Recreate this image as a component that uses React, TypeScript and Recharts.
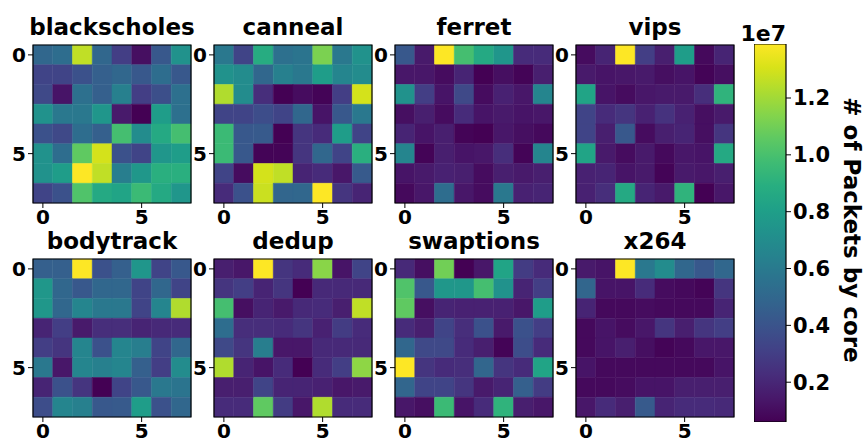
import React from 'react';
import { ScatterChart, Scatter, XAxis, YAxis, ReferenceArea } from 'recharts';

// packets handled per core, in units of 1e7 (rows = source core 0..7, cols = dest core 0..7)
const blackscholes = [
  [0.50, 0.53, 1.26, 0.50, 0.30, 0.11, 0.42, 0.73],
  [0.33, 0.33, 0.39, 0.46, 0.50, 0.42, 0.53, 0.42],
  [0.35, 0.13, 0.55, 0.46, 0.63, 0.30, 0.38, 0.55],
  [0.73, 0.59, 0.59, 0.75, 0.15, 0.06, 0.79, 0.55],
  [0.39, 0.35, 0.53, 0.46, 0.99, 0.70, 0.86, 0.99],
  [0.73, 0.53, 1.06, 1.30, 0.39, 0.33, 0.75, 0.79],
  [0.73, 0.79, 1.39, 1.26, 0.62, 0.76, 0.90, 0.90],
  [0.33, 0.39, 1.02, 0.86, 0.83, 0.96, 0.86, 0.75],
];
const canneal = [
  [0.59, 0.33, 0.88, 0.55, 0.57, 1.12, 0.59, 0.73],
  [0.73, 0.70, 0.50, 0.63, 0.59, 0.79, 0.66, 0.70],
  [1.23, 0.70, 0.23, 0.06, 0.10, 0.07, 0.30, 1.30],
  [0.33, 0.33, 0.37, 0.33, 0.50, 0.13, 0.42, 0.59],
  [0.96, 0.42, 0.43, 0.06, 0.26, 0.22, 0.79, 0.33],
  [0.96, 0.42, 0.07, 0.07, 0.26, 0.50, 0.33, 0.90],
  [0.33, 0.10, 1.30, 1.26, 0.19, 0.22, 0.14, 0.43],
  [0.22, 0.39, 1.28, 0.49, 0.50, 1.39, 0.26, 0.19],
];
const ferret = [
  [0.42, 0.15, 1.39, 0.99, 0.86, 0.75, 0.22, 0.22],
  [0.14, 0.14, 0.10, 0.19, 0.06, 0.11, 0.07, 0.17],
  [0.73, 0.30, 0.13, 0.35, 0.10, 0.18, 0.14, 0.66],
  [0.11, 0.17, 0.10, 0.22, 0.13, 0.15, 0.13, 0.14],
  [0.19, 0.13, 0.17, 0.07, 0.06, 0.14, 0.11, 0.09],
  [0.66, 0.07, 0.17, 0.13, 0.14, 0.23, 0.07, 0.66],
  [0.13, 0.15, 0.18, 0.17, 0.10, 0.17, 0.15, 0.17],
  [0.09, 0.14, 0.53, 0.14, 0.10, 0.59, 0.18, 0.19],
];
const vips = [
  [0.10, 0.19, 1.39, 0.30, 0.17, 0.79, 0.09, 0.19],
  [0.15, 0.13, 0.14, 0.15, 0.11, 0.13, 0.07, 0.11],
  [0.83, 0.13, 0.10, 0.14, 0.15, 0.15, 0.23, 0.92],
  [0.33, 0.22, 0.26, 0.18, 0.25, 0.18, 0.11, 0.15],
  [0.33, 0.17, 0.42, 0.10, 0.17, 0.19, 0.11, 0.26],
  [0.83, 0.15, 0.10, 0.15, 0.09, 0.14, 0.13, 0.86],
  [0.18, 0.19, 0.13, 0.15, 0.07, 0.15, 0.14, 0.17],
  [0.18, 0.23, 0.86, 0.19, 0.15, 0.92, 0.06, 0.14],
];
const bodytrack = [
  [0.46, 0.46, 1.39, 0.39, 0.46, 0.75, 0.33, 0.42],
  [0.76, 0.50, 0.42, 0.50, 0.50, 0.33, 0.50, 0.33],
  [0.76, 0.50, 0.66, 0.59, 0.59, 0.33, 0.66, 1.23],
  [0.19, 0.30, 0.15, 0.23, 0.23, 0.19, 0.21, 0.22],
  [0.30, 0.26, 0.66, 0.39, 0.66, 0.62, 0.33, 0.50],
  [0.59, 0.14, 0.66, 0.63, 0.66, 0.46, 0.30, 0.70],
  [0.19, 0.39, 0.26, 0.06, 0.33, 0.42, 0.59, 0.57],
  [0.37, 0.66, 0.63, 0.42, 0.43, 0.79, 0.39, 0.50],
];
const dedup = [
  [0.17, 0.14, 1.39, 0.26, 0.22, 1.15, 0.13, 0.33],
  [0.26, 0.30, 0.19, 0.26, 0.06, 0.21, 0.21, 0.21],
  [0.99, 0.11, 0.19, 0.15, 0.21, 0.22, 0.17, 1.26],
  [0.53, 0.23, 0.23, 0.22, 0.26, 0.18, 0.29, 0.22],
  [0.35, 0.26, 0.62, 0.14, 0.14, 0.21, 0.21, 0.21],
  [1.23, 0.19, 0.13, 0.22, 0.06, 0.22, 0.30, 1.16],
  [0.17, 0.17, 0.33, 0.19, 0.19, 0.18, 0.14, 0.15],
  [0.22, 0.22, 1.06, 0.29, 0.14, 1.23, 0.22, 0.22],
];
const swaptions = [
  [0.21, 0.11, 1.10, 0.06, 0.14, 0.83, 0.29, 0.22],
  [1.02, 0.42, 0.76, 0.76, 0.99, 0.73, 0.19, 0.30],
  [1.06, 0.11, 0.19, 0.18, 0.18, 0.18, 0.14, 0.79],
  [0.22, 0.17, 0.33, 0.23, 0.39, 0.15, 0.39, 0.30],
  [0.50, 0.35, 0.35, 0.22, 0.17, 0.07, 0.37, 0.22],
  [1.39, 0.26, 0.22, 0.23, 0.49, 0.26, 0.22, 0.83],
  [0.49, 0.33, 0.33, 0.26, 0.15, 0.19, 0.46, 0.29],
  [0.14, 0.11, 0.96, 0.13, 0.22, 0.92, 0.17, 0.14],
];
const x264 = [
  [0.15, 0.13, 1.39, 0.59, 0.70, 0.50, 0.42, 0.50],
  [0.49, 0.13, 0.13, 0.22, 0.10, 0.09, 0.07, 0.26],
  [0.19, 0.09, 0.09, 0.10, 0.09, 0.09, 0.09, 0.19],
  [0.09, 0.13, 0.10, 0.14, 0.26, 0.17, 0.26, 0.30],
  [0.09, 0.13, 0.17, 0.11, 0.07, 0.09, 0.14, 0.14],
  [0.13, 0.09, 0.09, 0.09, 0.09, 0.09, 0.09, 0.13],
  [0.09, 0.09, 0.10, 0.13, 0.13, 0.17, 0.17, 0.17],
  [0.14, 0.22, 0.17, 0.43, 0.19, 0.22, 0.22, 0.21],
];

const names = ['blackscholes', 'canneal', 'ferret', 'vips', 'bodytrack', 'dedup', 'swaptions', 'x264'];
const grids = [blackscholes, canneal, ferret, vips, bodytrack, dedup, swaptions, x264];
const axisTicks = [0, 5];
const cbarTicks = [0.2, 0.4, 0.6, 0.8, 1.0, 1.2];
const vmin = 0.06;
const vmax = 1.39;

const viridis = [
  '#440154', '#48186a', '#472d7b', '#424086', '#3b528b', '#33638d', '#2c728e', '#26828e',
  '#21918c', '#1fa088', '#28ae80', '#3fbc73', '#5ec962', '#84d44b', '#addc30', '#d8e219', '#fde725',
];

const hexToRgb = (h: string) => [1, 3, 5].map((i) => parseInt(h.slice(i, i + 2), 16));

function colorFor(v: number) {
  const t = Math.min(1, Math.max(0, (v - vmin) / (vmax - vmin)));
  const pos = t * (viridis.length - 1);
  const i = Math.min(viridis.length - 2, Math.floor(pos));
  const f = pos - i;
  const a = hexToRgb(viridis[i]);
  const b = hexToRgb(viridis[i + 1]);
  const rgb = a.map((x, k) => Math.round(x + (b[k] - x) * f));
  return `rgb(${rgb.join(',')})`;
}

const FONT = 'DejaVu Sans';
const tickStyle = { fontSize: 20, fontWeight: 700, fill: '#000', fontFamily: FONT };

const PW = 158;
const lefts = [33, 214, 395, 576];
const tops = [45, 259];

function Panel({ grid, left, top }: { grid: number[][]; left: number; top: number }) {
  const cells = grid.flatMap((row, r) => row.map((v, c) => ({ r, c, v })));
  return (
    <div style={{ position: 'absolute', left: left - 30, top: top - 5 }}>
      <ScatterChart width={30 + PW + 6} height={5 + PW + 30} margin={{ top: 5, right: 6, left: 0, bottom: 0 }}>
        <XAxis
          type="number"
          dataKey="c"
          domain={[-0.5, 7.5]}
          ticks={axisTicks}
          interval={0}
          allowDataOverflow
          height={30}
          tick={tickStyle}
          tickSize={5}
          tickLine={{ stroke: '#000' }}
          axisLine={false}
        />
        <YAxis
          type="number"
          dataKey="r"
          domain={[-0.5, 7.5]}
          reversed
          ticks={axisTicks}
          interval={0}
          allowDataOverflow
          width={30}
          tick={tickStyle}
          tickSize={5}
          tickLine={{ stroke: '#000' }}
          axisLine={false}
        />
        {cells.map((d) => {
          const col = colorFor(d.v);
          return (
            <ReferenceArea
              key={`${d.r}-${d.c}`}
              x1={d.c - 0.5}
              x2={d.c + 0.5}
              y1={d.r - 0.5}
              y2={d.r + 0.5}
              fill={col}
              fillOpacity={1}
              stroke={col}
              strokeWidth={0.5}
              ifOverflow="visible"
            />
          );
        })}
        <ReferenceArea x1={-0.5} x2={7.5} y1={-0.5} y2={7.5} fill="none" stroke="#000" strokeWidth={1.2} ifOverflow="visible" />
        <Scatter data={cells} isAnimationActive={false} shape={() => <g />} />
      </ScatterChart>
    </div>
  );
}

function ColorBar() {
  const pts = cbarTicks.map((y) => ({ x: 0.5, y }));
  return (
    <div style={{ position: 'absolute', left: 754, top: 44 }}>
      <ScatterChart width={32 + 60} height={378} margin={{ top: 0, right: 0, left: 0, bottom: 0 }}>
        <defs>
          <linearGradient id="viridisGrad" x1="0" y1="1" x2="0" y2="0">
            {viridis.map((c, i) => (
              <stop key={c} offset={i / (viridis.length - 1)} stopColor={c} />
            ))}
          </linearGradient>
        </defs>
        <XAxis type="number" dataKey="x" domain={[0, 1]} allowDataOverflow hide height={0} />
        <YAxis
          type="number"
          dataKey="y"
          orientation="right"
          domain={[vmin, vmax]}
          ticks={cbarTicks}
          interval={0}
          allowDataOverflow
          width={60}
          tick={{ ...tickStyle, fontSize: 21 }}
          tickSize={5}
          tickLine={{ stroke: '#000' }}
          axisLine={false}
          tickFormatter={(v: number) => v.toFixed(1)}
        />
        <ReferenceArea x1={0} x2={1} y1={vmin} y2={vmax} fill="url(#viridisGrad)" fillOpacity={1} stroke="#000" strokeWidth={1.2} ifOverflow="visible" />
        <Scatter data={pts} isAnimationActive={false} shape={() => <g />} />
      </ScatterChart>
    </div>
  );
}

export default function App() {
  return (
    <div style={{ position: 'absolute', left: 0, top: 0, width: 863, height: 439, background: '#fff', overflow: 'hidden' }}>
      {grids.map((g, i) => (
        <Panel key={names[i]} grid={g} left={lefts[i % 4]} top={tops[Math.floor(i / 4)]} />
      ))}
      <ColorBar />
      <svg width={863} height={439} style={{ position: 'absolute', left: 0, top: 0, pointerEvents: 'none' }}>
        {names.map((n, i) => (
          <text
            key={n}
            x={lefts[i % 4] + PW / 2}
            y={i < 4 ? 35 : 248.5}
            textAnchor="middle"
            fontFamily={FONT}
            fontWeight={700}
            fontSize={23}
          >
            {n}
          </text>
        ))}
        <text x={786} y={41} textAnchor="end" fontFamily={FONT} fontWeight={700} fontSize={22}>
          1e7
        </text>
        <text
          x={852}
          y={230}
          textAnchor="middle"
          dominantBaseline="central"
          transform="rotate(90 852 230)"
          fontFamily={FONT}
          fontWeight={700}
          fontSize={23}
        >
          # of Packets by core
        </text>
      </svg>
    </div>
  );
}
